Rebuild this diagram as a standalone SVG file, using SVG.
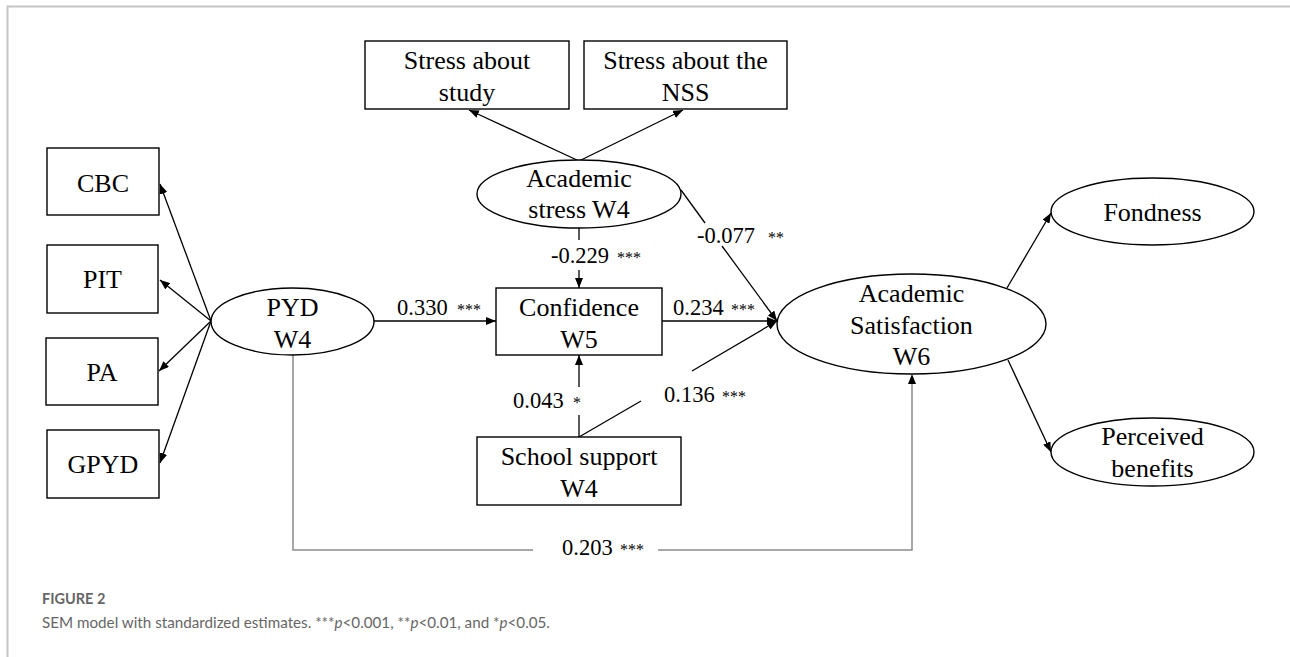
<svg xmlns="http://www.w3.org/2000/svg" width="1290" height="657" viewBox="0 0 1290 657">
<style>
.box{fill:#fff;stroke:#000;stroke-width:1.4}
.n{font-family:"Liberation Serif","Times New Roman",serif;font-size:26px;text-anchor:middle;fill:#000}
.lbl{font-family:"Liberation Serif","Times New Roman",serif;font-size:22.5px;fill:#000}
.st{font-size:16px}
.ln{stroke:#000;stroke-width:1.3;fill:none}
.gl{stroke:#8c8c8c;stroke-width:1.5;fill:none}
.frame{stroke:#c4c4c4;stroke-width:2;fill:none}
.cap{font-family:Lato,"Open Sans","Liberation Sans",sans-serif;fill:#666}
</style>
<defs>
<marker id="ah" markerUnits="userSpaceOnUse" markerWidth="10" markerHeight="8" refX="10" refY="4" orient="auto">
<path d="M0,0 L10,4 L0,8 z" fill="#000"/>
</marker>
</defs>
<rect width="1290" height="657" fill="#fff"/>
<path class="frame" d="M7.5,657 V6.5 H1290"/>

<g id="connectors">
<line class="ln" x1="579" y1="161" x2="469" y2="110" marker-end="url(#ah)"/>
<line class="ln" x1="579" y1="161" x2="683" y2="110" marker-end="url(#ah)"/>
<line class="ln" x1="211" y1="321" x2="160" y2="184" marker-end="url(#ah)"/>
<line class="ln" x1="211" y1="321" x2="160" y2="280" marker-end="url(#ah)"/>
<line class="ln" x1="211" y1="321" x2="159" y2="371" marker-end="url(#ah)"/>
<line class="ln" x1="211" y1="321" x2="160" y2="463" marker-end="url(#ah)"/>
<line class="ln" x1="374" y1="321" x2="496" y2="321" marker-end="url(#ah)"/>
<line class="ln" x1="662" y1="321" x2="777" y2="321" marker-end="url(#ah)"/>
<line class="ln" x1="579" y1="228" x2="579" y2="240"/>
<line class="ln" x1="579" y1="270" x2="579" y2="288" marker-end="url(#ah)"/>
<line class="ln" x1="681" y1="190" x2="705" y2="223"/>
<line class="ln" x1="722" y1="246" x2="777" y2="321" marker-end="url(#ah)"/>
<line class="ln" x1="579" y1="437" x2="579" y2="415"/>
<line class="ln" x1="579" y1="387" x2="579" y2="355" marker-end="url(#ah)"/>
<line class="ln" x1="579" y1="437" x2="641" y2="401"/>
<line class="ln" x1="692" y1="371" x2="777" y2="321" marker-end="url(#ah)"/>
<line class="ln" x1="1007" y1="288" x2="1051" y2="213" marker-end="url(#ah)"/>
<line class="ln" x1="1008" y1="360" x2="1051" y2="452" marker-end="url(#ah)"/>
<path class="gl" d="M293,355 V550 H533"/>
<path class="gl" d="M658,550 H912 V376"/>
<path d="M912,374 L908,384 L916,384 z" fill="#000"/>
<text class="lbl" x="397" y="315">0.330<tspan class="st" x="457">***</tspan></text>
<text class="lbl" x="551" y="263">-0.229<tspan class="st" x="617">***</tspan></text>
<text class="lbl" x="697" y="243">-0.077<tspan class="st" x="768">**</tspan></text>
<text class="lbl" x="673" y="315">0.234<tspan class="st" x="731">***</tspan></text>
<text class="lbl" x="513" y="408">0.043<tspan class="st" x="573">*</tspan></text>
<text class="lbl" x="664" y="402">0.136<tspan class="st" x="722">***</tspan></text>
<text class="lbl" x="562" y="555">0.203<tspan class="st" x="620">***</tspan></text>
</g>

<g id="stress-study"><rect class="box" x="365" y="41" width="204" height="68"/><text class="n" x="467" y="69">Stress about</text><text class="n" x="467" y="101">study</text></g>
<g id="stress-nss"><rect class="box" x="584" y="41" width="203" height="68"/><text class="n" x="685.5" y="69">Stress about the</text><text class="n" x="685.5" y="101">NSS</text></g>
<g id="academic-stress"><ellipse class="box" cx="579" cy="194" rx="102" ry="34"/><text class="n" x="579" y="187">Academic</text><text class="n" x="579" y="218">stress W4</text></g>
<g id="cbc"><rect class="box" x="47" y="148" width="112" height="67"/><text class="n" x="103" y="192">CBC</text></g>
<g id="pit"><rect class="box" x="47" y="245" width="111" height="68"/><text class="n" x="102.5" y="288">PIT</text></g>
<g id="pa"><rect class="box" x="46" y="338" width="112" height="67"/><text class="n" x="102" y="381">PA</text></g>
<g id="gpyd"><rect class="box" x="47" y="430" width="112" height="68"/><text class="n" x="103" y="473">GPYD</text></g>
<g id="pyd"><ellipse class="box" cx="292.5" cy="321.5" rx="81.5" ry="33.5"/><text class="n" x="292.5" y="316">PYD</text><text class="n" x="292.5" y="348">W4</text></g>
<g id="confidence"><rect class="box" x="496" y="288" width="166" height="67"/><text class="n" x="579" y="316">Confidence</text><text class="n" x="579" y="348">W5</text></g>
<g id="school-support"><rect class="box" x="477" y="437" width="204" height="68"/><text class="n" x="579" y="465">School support</text><text class="n" x="579" y="497">W4</text></g>
<g id="academic-satisfaction"><ellipse class="box" cx="911.5" cy="324" rx="134.5" ry="50"/><text class="n" x="911.5" y="302">Academic</text><text class="n" x="911.5" y="334">Satisfaction</text><text class="n" x="911.5" y="365">W6</text></g>
<g id="fondness"><ellipse class="box" cx="1152.5" cy="211.5" rx="101.5" ry="33.5"/><text class="n" x="1152.5" y="221">Fondness</text></g>
<g id="perceived-benefits"><ellipse class="box" cx="1152.5" cy="452" rx="101.5" ry="34"/><text class="n" x="1152.5" y="445">Perceived</text><text class="n" x="1152.5" y="477">benefits</text></g>

<g id="caption">
<text class="cap" x="42" y="604" font-size="14.5" font-weight="bold">FIGURE 2</text>
<text class="cap" x="42" y="628" font-size="15.2">SEM model with standardized estimates. ***<tspan font-style="italic">p</tspan>&lt;0.001, **<tspan font-style="italic">p</tspan>&lt;0.01, and *<tspan font-style="italic">p</tspan>&lt;0.05.</text>
</g>
</svg>
